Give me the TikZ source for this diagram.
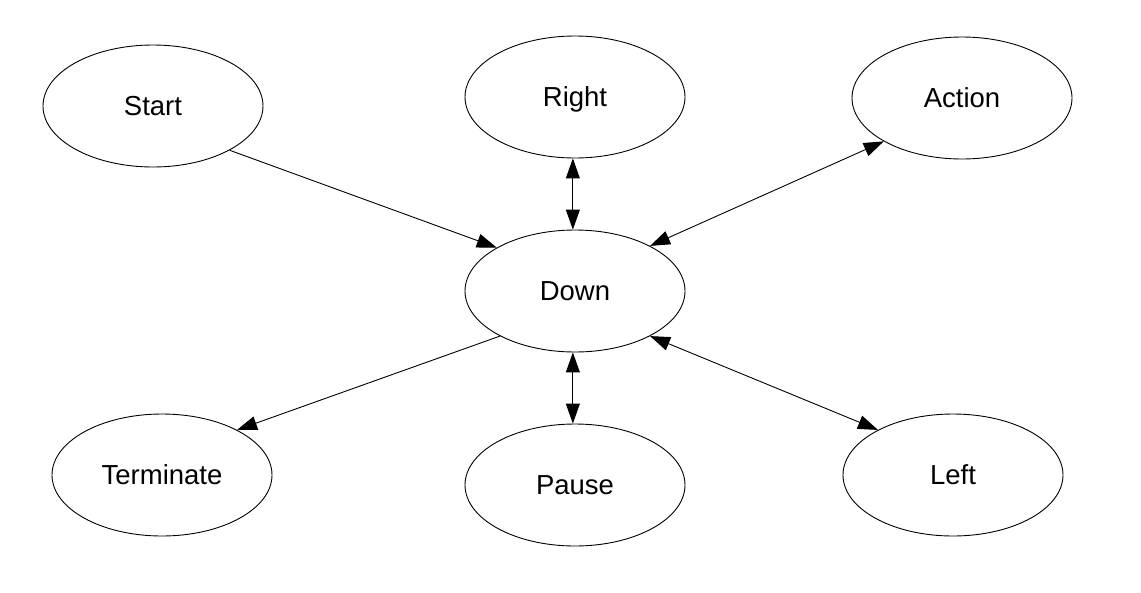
\documentclass[tikz,border=0pt]{standalone}
\usepackage{fontspec}
\setmainfont{Liberation Sans}
\usetikzlibrary{shapes.geometric,arrows.meta}
\begin{document}
\begin{tikzpicture}[x=1pt,y=-1pt,
  state/.style={draw,ellipse,line width=0.9pt,minimum width=220pt,minimum height=122pt,inner sep=0pt,
    text height=20pt,text depth=2pt,font=\fontsize{27.5}{30}\selectfont},
  tip/.style={Triangle[length=20pt,width=14pt]},
  link/.style={line width=0.9pt,-{Triangle[length=20pt,width=14pt]}},
  bilink/.style={line width=0.9pt,{Triangle[length=20pt,width=14pt]}-{Triangle[length=20pt,width=14pt]}}]
\useasboundingbox[fill=white] (0,0) rectangle (1141,592);
% states
\node[state] (start) at (153,106) {Start};
\node[state] (right) at (575,97) {Right};
\node[state] (action) at (962,98) {Action};
\node[state] (down) at (575,291) {Down};
\node[state] (term) at (162,475) {Terminate};
\node[state] (pause) at (575,485) {Pause};
\node[state] (left) at (953,475) {Left};
% transitions
\draw[link] (start.-30) -- (down.151);
\draw[bilink] (right.-92) -- (down.92);
\draw[bilink] (action.-151) -- (down.31);
\draw[link] (down.211) -- (term.31);
\draw[bilink] (down.-92) -- (pause.92);
\draw[bilink] (down.-31) -- (left.149);
\end{tikzpicture}
\end{document}
